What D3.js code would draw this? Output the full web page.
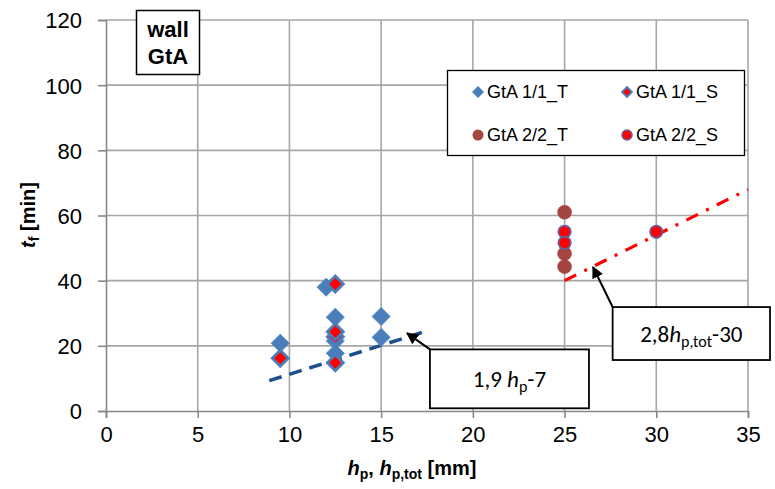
<!DOCTYPE html>
<html><head><meta charset="utf-8">
<script src="https://cdn.jsdelivr.net/npm/d3@7"></script>
<style>body{margin:0;background:#fff}svg{display:block}</style>
</head><body>
<script>
// ---- data ----
const xTicks = [0,5,10,15,20,25,30,35];
const yTicks = [0,20,40,60,80,100,120];
const gta11T = [[9.5,20.8],[12,38],[12.5,28.8],[12.5,21.5],[12.5,17.7],[15,29],[15,22.6]];
const gta11S = [[9.5,16.2],[12.5,39],[12.5,22.8],[12.5,24.3],[12.5,14.8]];
const gta22T = [[25,61],[25,48.3],[25,44.3]];
const gta22S = [[25,55],[25,51.6],[30,55]];
const trend1 = [[8.9,9.3],[17.5,24.6]];   // 1,9 hp - 7
const trend2 = [[25,40],[35,68]];         // 2,8 hp,tot - 30
const legendNames = ["GtA 1/1_T","GtA 1/1_S","GtA 2/2_T","GtA 2/2_S"];

const W=775,H=489;
const svg=d3.select("body").append("svg").attr("width",W).attr("height",H);
const x=d3.scaleLinear().domain([0,35]).range([106,748]);
const y=d3.scaleLinear().domain([0,120]).range([411,20]);
const grid="#a6a6a6";
const font="'Liberation Sans', Arial, sans-serif";

// grid
svg.append("g").selectAll("line").data(xTicks.slice(1)).join("line")
 .attr("x1",d=>x(d)).attr("x2",d=>x(d)).attr("y1",y(120)).attr("y2",y(0))
 .attr("stroke",grid).attr("stroke-width",1.6);
svg.append("g").selectAll("line").data(yTicks.slice(1)).join("line")
 .attr("x1",x(0)).attr("x2",x(35)).attr("y1",d=>y(d)).attr("y2",d=>y(d))
 .attr("stroke",grid).attr("stroke-width",1.6);

// axes
const xAxis=svg.append("g").attr("transform",`translate(0,${y(0)})`)
 .call(d3.axisBottom(x).tickValues(xTicks).tickSize(7).tickPadding(8));
const yAxis=svg.append("g").attr("transform",`translate(${x(0)},0)`)
 .call(d3.axisLeft(y).tickValues(yTicks).tickSize(8).tickPadding(16));
[xAxis,yAxis].forEach(a=>{
 a.select(".domain").attr("stroke","#888").attr("stroke-width",1.6);
 a.selectAll(".tick line").attr("stroke","#888").attr("stroke-width",1.6);
 a.selectAll("text").attr("font-family",font).attr("font-size",22).attr("fill","#000");
});
yAxis.selectAll("text").attr("dy","0.36em");

// axis titles
const xt=svg.append("text").attr("x",412).attr("y",475).attr("text-anchor","middle")
 .attr("font-family",font).attr("font-weight","bold").attr("font-size",20);
xt.append("tspan").attr("font-style","italic").text("h");
xt.append("tspan").attr("font-size",14).attr("dy",4).text("p");
xt.append("tspan").attr("dy",-4).text(", ");
xt.append("tspan").attr("font-style","italic").text("h");
xt.append("tspan").attr("font-size",14).attr("dy",4).text("p,tot");
xt.append("tspan").attr("dy",-4).text(" [mm]");

const yt=svg.append("text").attr("transform","translate(35,215) rotate(-90)").attr("text-anchor","middle")
 .attr("font-family",font).attr("font-weight","bold").attr("font-size",20);
yt.append("tspan").attr("font-style","italic").text("t");
yt.append("tspan").attr("font-size",14).attr("dy",4).text("f");
yt.append("tspan").attr("dy",-4).text(" [min]");

// trend lines
const line=d3.line().x(d=>x(d[0])).y(d=>y(d[1]));
svg.append("path").datum(trend1).attr("d",line).attr("fill","none")
 .attr("stroke","#1f4e8c").attr("stroke-width",3.5).attr("stroke-dasharray","13,8");
svg.append("path").datum(trend2).attr("d",line).attr("fill","none")
 .attr("stroke","#ff0000").attr("stroke-width",3.2).attr("stroke-dasharray","13,9,3,9");

// markers
const diamond=r=>`M0,${-r}L${r},0L0,${r}L${-r},0Z`;
svg.append("g").selectAll("path").data(gta11T).join("path")
 .attr("d",diamond(9)).attr("transform",d=>`translate(${x(d[0])},${y(d[1])})`)
 .attr("fill","#4a7ebb").attr("stroke","#5a8ac4").attr("stroke-width",1);
svg.append("g").selectAll("path").data(gta11S).join("path")
 .attr("d",diamond(8)).attr("transform",d=>`translate(${x(d[0])},${y(d[1])})`)
 .attr("fill","#ff0000").attr("stroke","#4a7ebb").attr("stroke-width",2.8);
svg.append("g").selectAll("circle").data(gta22T).join("circle")
 .attr("cx",d=>x(d[0])).attr("cy",d=>y(d[1])).attr("r",7)
 .attr("fill","#a5453f").attr("stroke","#a5453f").attr("stroke-width",0.5);
svg.append("g").selectAll("circle").data(gta22S).join("circle")
 .attr("cx",d=>x(d[0])).attr("cy",d=>y(d[1])).attr("r",6.2)
 .attr("fill","#ff0000").attr("stroke","#6a5f9f").attr("stroke-width",1.8);

// legend
const lg=svg.append("g");
lg.append("rect").attr("x",447.5).attr("y",70.5).attr("width",297).attr("height",85)
 .attr("fill","#fff").attr("stroke","#000").attr("stroke-width",1.3);
const lpos=[[478,92],[627,92],[478,135],[627,135]];
legendNames.forEach((n,i)=>{
 const [lx,ly]=lpos[i];
 if(i===0) lg.append("path").attr("d",diamond(6)).attr("transform",`translate(${lx},${ly})`).attr("fill","#4a7ebb");
 if(i===1) lg.append("path").attr("d",diamond(5)).attr("transform",`translate(${lx},${ly})`).attr("fill","#ff0000").attr("stroke","#4a7ebb").attr("stroke-width",1.8);
 if(i===2) lg.append("circle").attr("cx",lx).attr("cy",ly).attr("r",5.5).attr("fill","#a5453f");
 if(i===3) lg.append("circle").attr("cx",lx).attr("cy",ly).attr("r",5).attr("fill","#ff0000").attr("stroke","#6a5f9f").attr("stroke-width",1.5);
 lg.append("text").attr("x",lx+9).attr("y",ly).attr("dy","0.36em").attr("font-family",font)
  .attr("font-size",18).text(n);
});

// wall GtA box
svg.append("rect").attr("x",136.5).attr("y",10.5).attr("width",63).attr("height",64)
 .attr("fill","#fff").attr("stroke","#000").attr("stroke-width",1.5);
svg.append("text").attr("x",168).attr("y",37).attr("text-anchor","middle").attr("font-family",font)
 .attr("font-weight","bold").attr("font-size",22).text("wall");
svg.append("text").attr("x",168).attr("y",64).attr("text-anchor","middle").attr("font-family",font)
 .attr("font-weight","bold").attr("font-size",22).text("GtA");

// annotations (positions in data units)
const defs=svg.append("defs");
defs.append("marker").attr("id","ah").attr("viewBox","0 0 10 10").attr("refX",9).attr("refY",5)
 .attr("markerWidth",6).attr("markerHeight",6).attr("orient","auto-start-reverse").attr("markerUnits","strokeWidth")
 .append("path").attr("d","M0,0L10,5L0,10Z").attr("fill","#000");
const annos=[
 {box:[17.66,18.9,26.33,0.83], tip:[16.41,23.9], parts:[["1,9 ",""],["h","i"],["p","s"],["-7",""]]},
 {box:[27.62,31.9,36.2,15.65], tip:[26.55,44.2], parts:[["2,8",""],["h","i"],["p,tot","s"],["-30",""]]}
];
const afont="Carlito, Lato, 'Open Sans', sans-serif";
annos.forEach(a=>{
 const [x0,y0,x1,y1]=a.box;
 svg.append("line").attr("x1",x(x0)).attr("y1",y(y0)).attr("x2",x(a.tip[0])).attr("y2",y(a.tip[1]))
  .attr("stroke","#000").attr("stroke-width",2).attr("marker-end","url(#ah)");
 svg.append("rect").attr("x",x(x0)).attr("y",y(y0)).attr("width",x(x1)-x(x0)).attr("height",y(y1)-y(y0))
  .attr("fill","#fff").attr("stroke","#000").attr("stroke-width",1.8);
 const t=svg.append("text").attr("x",(x(x0)+x(x1))/2).attr("y",(y(y0)+y(y1))/2+8)
  .attr("text-anchor","middle").attr("font-family",afont).attr("font-size",23);
 a.parts.forEach(([s,k])=>{
  const sp=t.append("tspan").text(s);
  if(k==="i") sp.attr("font-style","italic");
  if(k==="s") sp.attr("font-size",16).attr("dy",5);
  if(k===""&&s.startsWith("-")) sp.attr("dy",-5);
 });
});
</script>
</body></html>
